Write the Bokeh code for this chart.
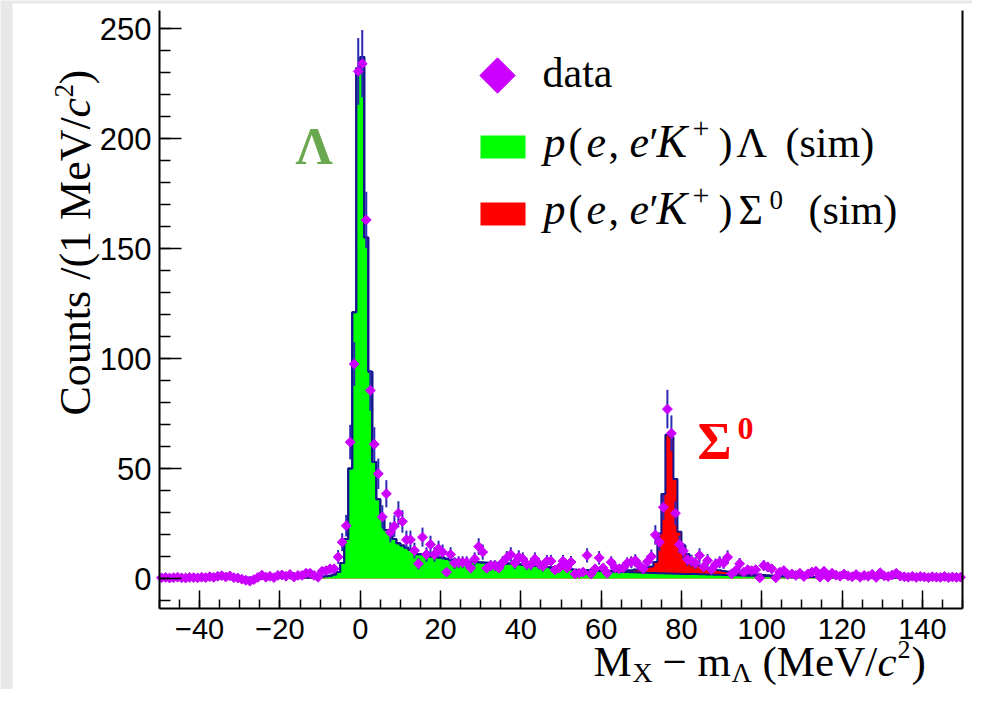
import numpy as np
from bokeh.plotting import figure
from bokeh.models import Range1d, LinearAxis, FixedTicker
from bokeh.core.properties import value
from bokeh.embed import file_html
from bokeh.resources import INLINE

# ---------------- data (1 MeV bins from -50 to 150) ----------------
bin_lo, bin_hi = -50, 150

data_counts = [
    0.3, 0.5, 0.2, 0.4, 0.6, 0.3, 0.2, 0.5, 0.4, 0.3,
    0.6, 0.4, 0.8, 0.5, 1.0, 1.3, 0.7, 1.2, 0.4, 0.2,
    -0.3, -0.8, -1.2, -0.5, 0.5, 1.5, 0.6, 1.0, 0.4, 1.4,
    1.6, 1.0, 1.8, 0.7, 1.4, 1.4, 2.4, 2.4, 1.4, 0.6,
    3.3, 3.6, 4.4, 4.4, 9.8, 16.5, 24, 62, 97.5, 230.5,
    234, 163, 85.5, 61, 47.6, 28, 38.5, 21, 23.8, 29.7,
    25.9, 17.6, 17.6, 12.7, 6.7, 18.8, 10.9, 15.5, 10.9, 13.5,
    12, 2.9, 10.9, 7, 7.4, 7.4, 7.4, 4.8, 8.9, 14.5,
    12, 4.7, 5.9, 5.9, 4.8, 7.4, 9.4, 10.9, 7, 9.7,
    8.9, 6.4, 6.4, 8.9, 6.7, 5.5, 7.9, 7.9, 3.9, 4.8,
    7.9, 4.8, 7.5, 2.1, 2.4, 2.9, 10.5, 2.1, 4.4, 9.4,
    4.8, 2.4, 7.4, 4.8, 4.4, 4.8, 7, 7.4, 8.2, 5.9,
    4.4, 7.6, 10, 19.8, 16.5, 32.4, 77, 66, 29.7, 15.5,
    12.5, 8.6, 8, 7, 10.5, 5.2, 8.2, 4, 6.5, 7.4,
    7, 9.7, 2.1, 3.6, 6.7, 2.9, 4, 3.6, 4, 0.3,
    5.9, 5.2, 4.4, 0.3, 2.9, 3.6, 1.8, 2.1, 1.4, 2.4,
    0.9, 2.1, 2.9, 3.3, 0.6, 3.3, 0.6, 2.4, 1.5, 1.0,
    2.0, 1.2, 0.8, 1.8, 0.6, 1.4, 1.0, 1.9, 0.5, 2.6,
    1.2, 0.9, 1.6, 2.4, 1.1, 0.8, 0.6, 1.0, 0.5, 0.9,
    0.7, 0.4, 0.8, 0.6, 0.5, 0.9, 0.4, 0.7, 0.5, 0.6,
]

lambda_sim = [
    0.3, 0.3, 0.3, 0.3, 0.3, 0.3, 0.3, 0.3, 0.3, 0.3,
    0.3, 0.3, 0.3, 0.3, 0.3, 0.3, 0.3, 0.3, 0.3, 0.3,
    0.3, 0.3, 0.3, 0.3, 0.4, 0.4, 0.4, 0.4, 0.4, 0.4,
    0.5, 0.5, 0.5, 0.5, 0.5, 0.5, 0.5, 0.5, 0.6, 0.6,
    0.8, 1.0, 1.3, 1.8, 3, 7, 18, 50, 121, 232,
    237, 155, 94, 53, 36, 27, 22, 20, 18, 16,
    15, 14, 13, 12, 11, 11, 10.5, 10, 10, 9.5,
    9.5, 9, 8.5, 8.5, 8, 8, 7.8, 7.6, 7.5, 7.4,
    7.3, 7.2, 7.0, 7.2, 7.0, 6.9, 6.8, 6.8, 6.6, 6.5,
    6.3, 6.0, 5.8, 5.8, 5.6, 5.3, 5.2, 5.0, 4.8, 4.7,
    4.5, 4.3, 4.2, 4.0, 3.9, 3.8, 3.7, 3.6, 3.5, 3.4,
    3.4, 3.3, 3.2, 3.1, 3.0, 3.0, 2.9, 2.8, 2.8, 2.7,
    2.6, 2.6, 2.5, 2.5, 2.4, 2.4, 2.3, 2.3, 2.2, 2.2,
    2.1, 2.1, 2.0, 2.0, 1.9, 1.9, 1.8, 1.8, 1.7, 1.7,
    1.6, 1.6, 1.5, 1.5, 1.4, 1.4, 1.3, 1.3, 1.2, 1.2,
    1.1, 1.1, 1.0, 1.0, 1.0, 0.9, 0.9, 0.9, 0.8, 0.8,
    0.8, 0.8, 0.7, 0.7, 0.7, 0.7, 0.6, 0.6, 0.6, 0.6,
    0.6, 0.5, 0.5, 0.5, 0.5, 0.5, 0.5, 0.5, 0.5, 0.5,
    0.5, 0.5, 0.5, 0.5, 0.5, 0.5, 0.4, 0.4, 0.4, 0.4,
    0.4, 0.4, 0.4, 0.4, 0.4, 0.4, 0.4, 0.4, 0.4, 0.4,
]

sigma_sim = [0.0] * 110 + [
    0.2, 0.3, 0.3, 0.4, 0.5, 0.6, 0.8, 1.0, 1.3, 1.6,
    2.0, 2.5, 3.0, 5.0, 18, 36, 63, 62, 43, 19,
    13, 9, 7, 5, 4, 3.6, 3.0, 2.6, 2.3, 2.0,
    1.8, 1.6, 1.4, 1.2, 1.1, 1.0, 0.9, 0.8, 0.7, 0.6,
    0.5, 0.4, 0.4, 0.3, 0.3, 0.2, 0.2, 0.1, 0.1, 0.1,
] + [0.0] * 40

x_ticks = [-40, -20, 0, 20, 40, 60, 80, 100, 120, 140]
y_ticks = [0, 50, 100, 150, 200, 250]

# ---------------- derived ----------------
edges = np.arange(bin_lo, bin_hi + 1, 1.0)
centers = edges[:-1] + 0.5
data = np.array(data_counts)
lam = np.array(lambda_sim)
tot = lam + np.array(sigma_sim)
err = np.sqrt(np.abs(data))
lam_s = np.append(lam, lam[-1])
tot_s = np.append(tot, tot[-1])

# ---------------- geometry (canvas px) ----------------
W, H = 972, 689
FL, FR, FT, FB = 159, 962, 10, 608          # drawn axes box
X0, X1 = -50.0, 150.0
Y1 = (578 - FT) / 2.2
Y0 = (578 - FB) / 2.2

def px2x(px):
    return X0 + (px - FL) / (FR - FL) * (X1 - X0)

def px2y(py):
    return Y1 - (py - FT) / (FB - FT) * (Y1 - Y0)

# the frame fills the whole canvas; axes are pinned at the box edges
p = figure(width=W, height=H, output_backend="svg", toolbar_location=None,
           x_range=Range1d(px2x(0), px2x(W)), y_range=Range1d(px2y(H), px2y(0)),
           min_border=0, min_border_left=0, min_border_right=0,
           min_border_top=0, min_border_bottom=0)
p.outline_line_color = None
p.grid.visible = False
p.background_fill_color = "#e8e8e8"
p.border_fill_color = "white"

SERIF = "Liberation Serif"
SANS = "Liberation Sans"
NAVY = "#14148c"

# white page panel over the light grey surround
p.quad(left=[px2x(12)], right=[px2x(W + 20)], top=[px2y(3)], bottom=[px2y(H + 20)],
       fill_color="white", line_color=None, level="underlay")

# histograms
p.varea_step(x=edges, y1=np.zeros_like(tot_s), y2=tot_s, step_mode="after", fill_color="#ff0000")
p.varea_step(x=edges, y1=np.zeros_like(lam_s), y2=lam_s, step_mode="after", fill_color="#00ff00")
p.step(x=edges, y=tot_s, mode="after", line_color=NAVY, line_width=2)
p.step(x=edges, y=lam_s, mode="after", line_color=NAVY, line_width=2)

# data points
p.segment(x0=centers, y0=data - err, x1=centers, y1=data + err, line_color="#2a2ab4", line_width=2)
p.scatter(x=centers, y=data, marker="square", angle=np.pi / 4, size=7,
          fill_color="#cc00ff", line_color="#cc00ff")

# axes
xa = p.xaxis[0]
xa.ticker = FixedTicker(ticks=x_ticks, minor_ticks=list(range(-50, 151, 5)))
xa.major_label_overrides = {t: ("\u2212" + str(-t) if t < 0 else str(t)) for t in x_ticks}
xa.fixed_location = Y0
xa.bounds = (X0, X1)
ya = p.yaxis[0]
ya.ticker = FixedTicker(ticks=y_ticks, minor_ticks=list(range(-10, 260, 10)))
ya.fixed_location = X0
ya.bounds = (Y0, Y1)
for ax in (xa, ya):
    ax.axis_line_width = 2
    ax.axis_line_color = "black"
    ax.major_tick_out = 0
    ax.minor_tick_out = 0
    ax.major_tick_line_width = 1.5
    ax.minor_tick_line_width = 1.5
    ax.major_label_text_font = SANS
    ax.major_label_text_color = "black"
xa.major_tick_in = 18
xa.minor_tick_in = 9
ya.major_tick_in = 22
ya.minor_tick_in = 11
xa.major_label_text_font_size = "29px"
ya.major_label_text_font_size = "31px"
xa.major_label_standoff = 10
ya.major_label_standoff = 8

ra = LinearAxis(ticker=FixedTicker(ticks=[]), axis_line_width=2, axis_line_color="black",
                major_label_text_font_size="0px", major_tick_in=0, major_tick_out=0,
                minor_tick_in=0, minor_tick_out=0, fixed_location=X1, bounds=(Y0, Y1))
p.add_layout(ra, "right")

SHIFT = 0.37   # baseline correction (fraction of font size)


def lab(text, px, py, size, font=SERIF, style="normal", color="black", angle=0.0):
    if angle == 0.0:
        py = py - SHIFT * size
    else:
        px = px - SHIFT * size
    p.text(x=[px2x(px)], y=[px2y(py)], text=[text], text_font=value(font),
           text_font_size=value(f"{size}px"), text_font_style=style,
           text_color=color, angle=angle, text_align="left",
           text_baseline="alphabetic")

# x-axis title: M_X - m_Lambda (MeV/c^2)
XB = 677
lab("M", 593, XB, 43)
lab("X", 632, XB + 5, 28)
lab("\u2212", 662, XB, 43)
lab("m", 697, XB, 43)
lab("\u039b", 731, XB + 5, 28)
lab("(MeV/", 762, XB, 43)
lab("c", 877, XB, 43, style="italic")
lab("2", 897, XB - 18, 26)
lab(")", 911, XB, 43)

# y-axis title (rotated)
rot = np.pi / 2
lab("Counts /(1 MeV/", 91, 415, 44, angle=rot)
lab("c", 91, 117, 44, style="italic", angle=rot)
lab("2", 73, 97, 27, angle=rot)
lab(")", 91, 84, 44, angle=rot)

# peak labels
lab("\u039b", 295, 165, 52, style="bold", color="#6aa84f")
lab("\u03a3", 697, 460, 52, style="bold", color="#ff0000")
lab("0", 737, 440, 32, style="bold", color="#ff0000")

# legend
p.scatter(x=[px2x(497)], y=[px2y(75)], marker="square", angle=np.pi / 4, size=25,
          fill_color="#cc00ff", line_color="#cc00ff")
p.quad(left=[px2x(480)], right=[px2x(525)], top=[px2y(135)], bottom=[px2y(158)],
       fill_color="#00ff00", line_color=None)
p.quad(left=[px2x(480)], right=[px2x(525)], top=[px2y(202)], bottom=[px2y(225)],
       fill_color="#ff0000", line_color=None)

LS = 42
lab("data", 542, 88, LS)
for base, last, lastx, simx in ((158, "\u039b", 736, 785), (225, "\u03a3", 738, 808)):
    lab("p", 543, base, 44, style="italic")
    lab("(", 568, base, LS)
    lab("e", 586, base, 44, style="italic")
    lab(",", 608, base, LS)
    lab("e", 629, base, 44, style="italic")
    lab("\u2032", 649, base, LS)
    lab("K", 656, base, 46, style="italic")
    lab("+", 692, base - 19, 30)
    lab(")", 718, base, LS)
    lab(last, lastx, base, LS)
    if last == "\u03a3":
        lab("0", 769, base - 16, 27)
    lab("(sim)", simx, base, LS)

open("out.html", "w").write(file_html(p, INLINE))
